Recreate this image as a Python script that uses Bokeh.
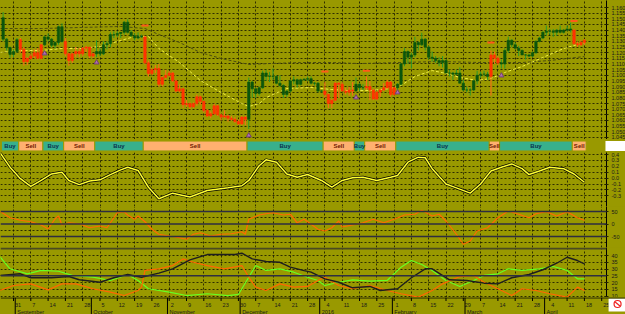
import numpy as np
import pandas as pd
from bokeh.plotting import figure
from bokeh.layouts import column
from bokeh.models import Range1d, FixedTicker, Grid, Span, PrintfTickFormatter
from bokeh.core.properties import value
from bokeh.embed import file_html
from bokeh.resources import INLINE

# ---------------- data ----------------
dates = pd.bdate_range("2015-08-26", "2016-04-18")        # daily bars
axis_dates = pd.bdate_range("2015-08-26", "2016-04-29")   # axis incl. empty right space

opens = [1.1510,1.1320,1.1245,1.1185,1.1210,1.1315,1.1230,1.1120,1.1150,1.1170,
         1.1200,1.1150,1.1270,1.1340,1.1320,1.1265,1.1290,1.1430,1.1300,1.1190,
         1.1130,1.1190,1.1210,1.1190,1.1240,1.1250,1.1170,1.1190,1.1210,1.1190,
         1.1270,1.1280,1.1360,1.1360,1.1370,1.1380,1.1470,1.1380,1.1350,1.1330,
         1.1345,1.1340,1.1110,1.1015,1.1050,1.1060,1.0920,1.0980,1.1000,1.1020,
         1.0950,1.0860,1.0880,1.0740,1.0750,1.0720,1.0750,1.0810,1.0770,1.0690,
         1.0640,1.0660,1.0730,1.0650,1.0630,1.0640,1.0620,1.0610,1.0590,1.0570,
         1.0630,1.0610,1.0940,1.0880,1.0840,1.0890,1.1020,1.0990,1.0990,1.0990,
         1.0930,1.0910,1.0830,1.0860,1.0950,1.0960,1.0920,1.0960,1.0965,1.0970,
         1.0930,1.0930,1.0860,1.0860,1.0830,1.0750,1.0780,1.0930,1.0920,1.0860,
         1.0850,1.0870,1.0860,1.0920,1.0890,1.0890,1.0900,1.0870,1.0790,1.0850,
         1.0870,1.0890,1.0940,1.0830,1.0890,1.0920,1.1100,1.1210,1.1160,1.1180,
         1.1290,1.1270,1.1320,1.1250,1.1160,1.1150,1.1130,1.1110,1.1130,1.1020,
         1.1020,1.1010,1.1020,1.0930,1.0870,1.0870,1.0870,1.0950,1.1000,1.1010,
         1.1010,1.0990,1.1180,1.1150,1.1110,1.1100,1.1220,1.1310,1.1270,1.1240,
         1.1220,1.1180,1.1180,1.1170,1.1200,1.1300,1.1330,1.1380,1.1390,1.1390,
         1.1380,1.1400,1.1380,1.1400,1.1410,1.1400,1.1280,1.1270,1.1290]
highs = [1.1560,1.1330,1.1255,1.1230,1.1330,1.1330,1.1250,1.1160,1.1190,1.1230,
         1.1240,1.1280,1.1350,1.1370,1.1330,1.1300,1.1440,1.1460,1.1330,1.1200,
         1.1200,1.1250,1.1240,1.1250,1.1260,1.1250,1.1200,1.1310,1.1240,1.1300,
         1.1300,1.1380,1.1390,1.1390,1.1380,1.1480,1.1495,1.1400,1.1370,1.1380,
         1.1360,1.1350,1.1130,1.1060,1.1090,1.1100,1.0990,1.1050,1.1040,1.1030,
         1.0960,1.0920,1.0890,1.0780,1.0760,1.0760,1.0830,1.0820,1.0770,1.0700,
         1.0680,1.0750,1.0740,1.0660,1.0690,1.0650,1.0640,1.0630,1.0610,1.0640,
         1.0640,1.0980,1.0950,1.0890,1.0900,1.1040,1.1050,1.1030,1.1060,1.1000,
         1.1000,1.0920,1.0870,1.0960,1.0990,1.0970,1.0970,1.0975,1.0990,1.0990,
         1.0940,1.0940,1.0870,1.0940,1.0840,1.0790,1.0940,1.0940,1.0940,1.0890,
         1.0900,1.0940,1.0980,1.0930,1.0920,1.0990,1.0950,1.0880,1.0860,1.0880,
         1.0930,1.0960,1.0950,1.0900,1.0930,1.1110,1.1240,1.1220,1.1200,1.1340,
         1.1300,1.1376,1.1330,1.1260,1.1210,1.1170,1.1160,1.1170,1.1140,1.1050,
         1.1030,1.1050,1.1070,1.0960,1.0900,1.0890,1.0960,1.1040,1.1030,1.1040,
         1.1030,1.1220,1.1210,1.1170,1.1140,1.1240,1.1342,1.1320,1.1290,1.1260,
         1.1230,1.1190,1.1190,1.1210,1.1310,1.1340,1.1390,1.1440,1.1410,1.1410,
         1.1410,1.1440,1.1410,1.1440,1.1465,1.1410,1.1300,1.1310,1.1320]
lows = [1.1300,1.1220,1.1155,1.1160,1.1200,1.1200,1.1085,1.1090,1.1140,1.1150,
        1.1140,1.1140,1.1260,1.1300,1.1250,1.1235,1.1270,1.1290,1.1170,1.1085,
        1.1110,1.1160,1.1160,1.1170,1.1205,1.1150,1.1150,1.1160,1.1170,1.1180,
        1.1230,1.1250,1.1330,1.1340,1.1330,1.1360,1.1370,1.1340,1.1310,1.1320,
        1.1330,1.1095,1.0990,1.1000,1.1020,1.0900,1.0900,1.0970,1.0990,1.0940,
        1.0850,1.0850,1.0710,1.0720,1.0700,1.0710,1.0730,1.0740,1.0670,1.0630,
        1.0620,1.0650,1.0640,1.0600,1.0620,1.0590,1.0600,1.0580,1.0560,1.0560,
        1.0560,1.0525,1.0800,1.0800,1.0820,1.0880,1.0950,1.0940,1.0960,1.0920,
        1.0900,1.0800,1.0810,1.0850,1.0920,1.0890,1.0910,1.0950,1.0950,1.0920,
        1.0910,1.0850,1.0850,1.0800,1.0710,1.0710,1.0770,1.0800,1.0860,1.0830,
        1.0820,1.0820,1.0860,1.0860,1.0870,1.0870,1.0780,1.0780,1.0780,1.0810,
        1.0860,1.0880,1.0810,1.0820,1.0860,1.0910,1.1080,1.1100,1.1060,1.1160,
        1.1220,1.1260,1.1220,1.1140,1.1120,1.1110,1.1080,1.1070,1.1020,1.0990,
        1.0960,1.1000,1.0930,1.0860,1.0850,1.0820,1.0860,1.0920,1.0980,1.0990,
        1.0960,1.0820,1.1100,1.1090,1.1060,1.1060,1.1200,1.1250,1.1230,1.1170,
        1.1180,1.1140,1.1160,1.1160,1.1190,1.1290,1.1320,1.1350,1.1360,1.1340,
        1.1350,1.1370,1.1370,1.1390,1.1380,1.1270,1.1250,1.1260,1.1270]
closes = [1.1320,1.1245,1.1185,1.1210,1.1315,1.1230,1.1120,1.1150,1.1170,1.1200,
          1.1150,1.1270,1.1340,1.1320,1.1265,1.1290,1.1430,1.1300,1.1190,1.1130,
          1.1190,1.1210,1.1190,1.1240,1.1250,1.1170,1.1190,1.1210,1.1190,1.1270,
          1.1280,1.1360,1.1360,1.1370,1.1380,1.1470,1.1380,1.1350,1.1330,1.1345,
          1.1340,1.1110,1.1015,1.1050,1.1060,1.0920,1.0980,1.1000,1.1020,1.0950,
          1.0860,1.0880,1.0740,1.0750,1.0720,1.0750,1.0810,1.0770,1.0690,1.0640,
          1.0660,1.0730,1.0650,1.0630,1.0640,1.0620,1.0610,1.0590,1.0570,1.0630,
          1.0610,1.0940,1.0880,1.0840,1.0890,1.1020,1.0990,1.0990,1.0990,1.0930,
          1.0910,1.0830,1.0860,1.0950,1.0960,1.0920,1.0960,1.0965,1.0970,1.0930,
          1.0930,1.0860,1.0860,1.0830,1.0750,1.0780,1.0930,1.0920,1.0860,1.0850,
          1.0870,1.0860,1.0920,1.0890,1.0890,1.0900,1.0870,1.0790,1.0850,1.0870,
          1.0890,1.0940,1.0830,1.0890,1.0920,1.1100,1.1210,1.1160,1.1180,1.1290,
          1.1270,1.1320,1.1250,1.1160,1.1150,1.1130,1.1110,1.1130,1.1020,1.1020,
          1.1010,1.1020,1.0930,1.0870,1.0870,1.0870,1.0950,1.1000,1.1010,1.1010,
          1.0990,1.1180,1.1150,1.1110,1.1100,1.1220,1.1310,1.1270,1.1240,1.1220,
          1.1180,1.1180,1.1170,1.1200,1.1300,1.1330,1.1380,1.1390,1.1390,1.1380,
          1.1400,1.1380,1.1400,1.1410,1.1400,1.1280,1.1270,1.1290,1.1310]

signal_start = ["2015-08-26","2015-09-02","2015-09-11","2015-09-21","2015-10-02","2015-10-22","2015-12-03",
                "2016-01-04","2016-01-15","2016-01-20","2016-02-02","2016-03-10","2016-03-15","2016-04-13"]
signal_end = ["2015-09-01","2015-09-10","2015-09-18","2015-10-01","2015-10-21","2015-12-02","2016-01-01",
              "2016-01-14","2016-01-19","2016-02-01","2016-03-09","2016-03-14","2016-04-12","2016-04-18"]
signal = ["Buy","Sell","Buy","Sell","Buy","Sell","Buy","Sell","Buy","Sell","Buy","Sell","Buy","Sell"]

# moving averages (bar number counted from 31 Aug 2015, price)
ma_fast_bar = [-4,2,8,14,19,25,31,35,39,42,48,54,60,66,68,71,73,79,86,92,97,103,109,112,116,121,125,129,134,138,142,147,153,159,165]
ma_fast = [1.1202,1.1219,1.1219,1.1237,1.1237,1.1255,1.1308,1.1343,1.1343,1.1237,1.1113,1.0954,1.0848,1.0750,1.0724,
           1.0750,1.0803,1.0883,1.0892,1.0874,1.0865,1.0865,1.0883,1.0910,1.0989,1.1042,1.1016,1.0981,1.0954,1.0972,
           1.1025,1.1078,1.1158,1.1237,1.1290]
ma_slow_bar = [-4,8,19,31,38,42,48,54,60,68,74,83,92,100,112,123,135,147,155,165]
ma_slow = [1.1414,1.1414,1.1423,1.1432,1.1414,1.1361,1.1290,1.1202,1.1149,1.1096,1.1104,1.1113,1.1113,1.1104,
           1.1113,1.1122,1.1113,1.1113,1.1131,1.1166]

buy_mark_bar = [9, 24, 68, 99, 111, 141]
buy_mark_price = [1.1193, 1.1113, 1.0467, 1.0803, 1.0848, 1.0998]
sell_mark_bar = [38, 90, 102, 138, 162]
sell_mark_price = [1.1441, 1.1034, 1.1040, 1.1290, 1.1480]

osc1_bar = [-4,-1,2,5,8,11,14,16,19,22,25,28,31,33,36,39,42,46,51,56,62,66,68,71,73,76,79,82,85,89,92,95,98,101,
            105,109,111,114,117,119,121,125,128,132,135,138,141,144,147,149,152,155,159,162,165]
osc1 = [0.44,0.185,-0.01,-0.14,-0.04,0.07,0.10,-0.04,-0.11,-0.05,-0.03,0.06,0.14,0.185,0.13,-0.155,-0.35,-0.255,
        -0.32,-0.21,-0.165,-0.13,-0.04,0.21,0.31,0.27,0.07,0.015,0.06,-0.04,-0.155,-0.04,0.005,0.015,-0.04,0.015,
        0.045,0.27,0.355,0.345,0.16,-0.10,-0.165,-0.255,-0.10,0.12,0.185,0.24,0.16,0.06,0.12,0.185,0.16,0.07,-0.07]

osc2_bar = [-4,-1,2,5,8,10,12,13,14,16,19,22,25,27,29,30,32,33,35,36,38,40,42,45,48,50,52,54,57,60,63,66,67,68,71,
            73,75,78,80,82,84,86,88,90,92,94,95,98,101,104,107,110,113,116,118,121,123,125,128,130,132,134,137,140,
            143,146,149,151,154,157,160,163,165]
osc2 = [52,25,15,9,-4,-20,20,32,-4,5,1,-15,-8,-15,25,45,49,36,19,32,9,-21,-41,-48,-55,-61,-41,-35,-48,-41,-39,-31,
        -41,19,36,41,45,36,39,5,19,-1,-21,-28,-15,12,-12,-4,5,19,5,19,36,39,55,32,39,12,-41,-81,-68,-28,-15,25,52,
        39,25,41,49,32,49,25,15]

adx_bar = [-4,2,5,11,16,19,25,29,33,37,42,46,51,56,64,66,69,73,77,80,84,86,90,94,98,103,106,111,115,119,121,126,
           131,136,140,144,149,153,157,160,163,165]
adx = [25.3,26.5,23.6,23.6,24.5,22.1,20.3,23.6,26,24,27,30.2,36.8,40.7,40.7,41.7,37.5,35.6,35,31.4,28.9,27.7,22.8,
       20.3,16.2,17.2,14.2,15.5,23.6,30.2,30.2,22.1,21.6,19.6,19.1,23.6,26,29.5,34.3,38.7,36.3,33.9]
pdi_bar = [-4,-1,4,8,13,17,23,28,33,36,39,45,50,56,62,65,68,70,73,77,81,85,88,90,94,98,103,108,112,115,118,121,
           125,129,133,136,140,143,147,152,156,160,163,165]
pdi = [39.3,30.2,26.5,29,28.4,25.3,24,21.6,26,21.6,15.5,13,10.5,11.8,10.5,11.3,24,32.6,29,30.2,27.7,24,21.6,17.9,
       20.3,22.1,21.1,21.6,31.4,36.3,33.4,29,21.6,17.2,21.6,25.3,26.5,30.2,29,30.2,31.9,29,22.8,22.8]
mdi_bar = [-4,0,5,10,14,18,23,28,32,36,37,38,42,46,49,52,56,61,66,68,70,73,77,81,85,88,90,94,98,103,108,112,117,
           121,124,129,133,136,140,144,147,151,155,160,163,165]
mdi = [14.2,17.9,19.1,14.7,19.1,19.1,15.5,13,10.5,14.2,16.7,29,30.2,32.6,37.5,35,32.6,30.2,32.6,24,16.7,14.2,19.1,
       16.7,17.2,21.6,24,17.9,15.5,17.9,14.2,11.8,9.3,14.2,19.1,24.5,25.3,20.3,15.5,10.5,15.5,14.2,11.8,9.3,16.7,14.2]

day_labels = ["31","7","14","21","28","5","12","19","26","2","9","16","23","30","7","14","21","28",
              "4","11","18","25","1","8","15","22","29","7","14","21","28","4","11","18","25"]
month_labels = ["September","October","November","December","2016","February","March","April"]
price_ticks = [round(1.045 + 0.005 * k, 3) for k in range(24)]
osc1_ticks = [0.4, 0.3, 0.2, 0.1, 0.0, -0.1, -0.2, -0.3]
osc2_ticks = [50, 0, -50]
osc3_ticks = [40, 35, 30, 25, 20, 15, 10]

# ---------------- style ----------------
OLIVE = "#999900"
GRIDC = "#1a1a00"
FONT = "Liberation Sans"
PXB = 3.46          # pixels per bar
X0 = -13 / PXB      # bar number at left edge
xr = Range1d(X0, X0 + 606 / PXB)
xr_full = Range1d(X0, X0 + 625 / PXB)

origin = axis_dates.get_loc(pd.Timestamp("2015-08-31"))
axis_pos = np.arange(len(axis_dates)) - origin
bar_pos = axis_pos[:len(dates)]
pos_of = {d: p for d, p in zip(axis_dates, axis_pos)}
mondays = [int(p) for d, p in zip(axis_dates, axis_pos) if d.weekday() == 0]
month_edges = [int(p) - 0.5 for i, (d, p) in enumerate(zip(axis_dates, axis_pos))
               if i > 0 and d.month != axis_dates[i - 1].month]

sig_first = [pos_of[pd.Timestamp(s)] for s in signal_start]
sig_last = [pos_of[pd.Timestamp(s)] for s in signal_end]
bar_sig = []
for b in bar_pos:
    for f, l, s in zip(sig_first, sig_last, signal):
        if f <= b <= l:
            bar_sig.append(s)
            break


def panel(h, y0, y1, full=False, axis=True):
    p = figure(frame_width=625 if full else 606, frame_height=h,
               x_range=xr_full if full else xr, y_range=Range1d(y0, y1),
               output_backend="svg", toolbar_location=None,
               x_axis_location=None, y_axis_location="right" if axis else None,
               min_border=0, min_border_left=0, min_border_right=0 if full else 19,
               min_border_top=0, min_border_bottom=0,
               background_fill_color=OLIVE, border_fill_color=OLIVE,
               outline_line_color=None)
    for g in p.grid:
        g.visible = False
    if axis:
        ax = p.yaxis[0]
        ax.axis_line_color = "black"
        ax.axis_line_width = 1
        ax.major_tick_out = 2
        ax.major_tick_in = 2
        ax.minor_tick_out = 0
        ax.minor_tick_in = 0
        ax.major_tick_line_color = "#222200"
        ax.major_label_text_font_size = "5.5px"
        ax.major_label_text_color = "#1a1a1a"
        ax.major_label_text_font = FONT
        ax.major_label_standoff = 3
    return p


def vgrid(p):
    p.add_layout(Grid(dimension=0, ticker=FixedTicker(ticks=mondays), grid_line_color=GRIDC,
                      grid_line_dash="2 2", grid_line_width=1, grid_line_alpha=0.85))


def hgrid(p, ticks):
    p.add_layout(Grid(dimension=1, ticker=FixedTicker(ticks=ticks), grid_line_color=GRIDC,
                      grid_line_dash="2 2", grid_line_width=1, grid_line_alpha=0.85))


# ---------------- price panel ----------------
pp = panel(139, 1.16 - 132 * 0.000885, 1.16 + 7 * 0.000885)
pp.yaxis.ticker = FixedTicker(ticks=price_ticks)
pp.yaxis.formatter = PrintfTickFormatter(format="%.3f")
vgrid(pp)
hgrid(pp, price_ticks)
pp.line(ma_slow_bar, ma_slow, line_color="#4d4d10", line_width=1, line_dash="3 2")
pp.line(ma_fast_bar, ma_fast, line_color="#eeee44", line_width=1, line_dash="3 2")
wick_col = ["#2a9a2a" if s == "Buy" else "#ff6a1a" for s in bar_sig]
body_col = ["#0c560c" if s == "Buy" else "#ff3300" for s in bar_sig]
pp.segment(bar_pos, lows, bar_pos, highs, line_color=wick_col, line_width=1)
pp.vbar(x=bar_pos, width=0.7, top=np.maximum(opens, closes), bottom=np.minimum(opens, closes),
        fill_color=body_col, line_color=body_col, line_width=0.6)
pp.scatter(buy_mark_bar, buy_mark_price, marker="triangle", size=5, fill_color="#b070b0", line_color="#704070")
pp.scatter(sell_mark_bar, sell_mark_price, marker="dash", size=7, line_color="#ff5a1a", line_width=2)

# ---------------- signal strip ----------------
sp = panel(13, 0, 1, full=True, axis=False)
fills = ["#38b08c" if s == "Buy" else "#ffb070" for s in signal]
tcols = ["#0a3050" if s == "Buy" else "#701800" for s in signal]
left = [f - 0.5 for f in sig_first]
right = [l + 0.5 for l in sig_last]
sp.quad(left=left, right=right, bottom=0.12, top=0.88, fill_color=fills, line_color=OLIVE, line_width=1)
sp.text(x=[(a + b) / 2 for a, b in zip(left, right)], y=[0.5] * len(signal), text=signal,
        text_align="center", text_baseline="middle", text_font_size="6px", text_font_style="bold",
        text_color=tcols, text_font=value(FONT))
sp.quad(left=[xr.end - 0.3], right=[xr_full.end], bottom=[0.12], top=[0.88], fill_color="white", line_color=None)

# ---------------- oscillator 1 ----------------
o1 = panel(54, 0.4 - 52 / 59, 0.4 + 2 / 59)
o1.yaxis.ticker = FixedTicker(ticks=osc1_ticks)
o1.yaxis.formatter = PrintfTickFormatter(format="%.1f")
vgrid(o1)
hgrid(o1, [0.4, 0.3, 0.2, 0.1, 0.0, -0.1, -0.2, -0.3, -0.4])
o1.line(osc1_bar, osc1, line_color="black", line_width=2.8)
o1.line(osc1_bar, osc1, line_color="#ffff33", line_width=1.5)

# ---------------- oscillator 2 ----------------
o2 = panel(41, 50 - 36 * 4, 50 + 5 * 4)
o2.yaxis.ticker = FixedTicker(ticks=osc2_ticks)
o2.yaxis.formatter = PrintfTickFormatter(format="%d")
vgrid(o2)
hgrid(o2, [25, -25, -75])
for lv in osc2_ticks:
    o2.add_layout(Span(location=lv, dimension="width", line_color="#2e2e40", line_width=1.5))
o2.line(osc2_bar, osc2, line_color="#ff6a00", line_width=1.2)

# ---------------- oscillator 3 ----------------
o3 = panel(50, 40 - 42 / 1.357, 40 + 8 / 1.357)
o3.yaxis.ticker = FixedTicker(ticks=osc3_ticks)
o3.yaxis.formatter = PrintfTickFormatter(format="%d")
vgrid(o3)
hgrid(o3, [40, 35, 30, 20, 15, 10])
o3.add_layout(Span(location=25, dimension="width", line_color="#2e2e40", line_width=1.5))
o3.add_layout(Span(location=40 + 7 / 1.357, dimension="width", line_color="#4a4a20", line_width=2))
o3.line(pdi_bar, pdi, line_color="#66ff22", line_width=1.2)
o3.line(mdi_bar, mdi, line_color="#ff6600", line_width=1.2)
o3.line(adx_bar, adx, line_color="#1e1e1e", line_width=1.4)

# ---------------- date axis strip ----------------
xp = panel(17, 0, 17, full=True, axis=False)
xp.add_layout(Span(location=16.6, dimension="width", line_color="black", line_width=1))
xp.segment(mondays, [17] * len(mondays), mondays, [13.5] * len(mondays), line_color="black", line_width=1)
xp.text(x=mondays, y=[9.5] * len(mondays), text=day_labels, x_offset=1.5, text_align="left",
        text_baseline="middle", text_font_size="5.5px", text_color="#1a1a1a", text_font=value(FONT))
xp.segment(month_edges, [17] * len(month_edges), month_edges, [0] * len(month_edges),
           line_color="black", line_width=1)
xp.text(x=month_edges, y=[2.8] * len(month_edges), text=month_labels, x_offset=2, text_align="left",
        text_baseline="middle", text_font_size="5.5px", text_color="#1a1a1a", text_font=value(FONT))
icon_x = xr.end + 3.2
xp.quad(left=[xr.end + 0.6], right=[xr_full.end], bottom=[3], top=[16], fill_color="white", line_color=None)
xp.scatter([icon_x], [10.5], marker="circle", size=7, fill_color="white", line_color="#ee2222", line_width=1.2)
xp.segment([icon_x - 0.7], [12.5], [icon_x + 0.7], [8.5], line_color="#ee2222", line_width=1.2)

layout = column(pp, sp, o1, o2, o3, xp, spacing=0, styles={"background-color": OLIVE})
open("out.html", "w").write(file_html(layout, INLINE))
